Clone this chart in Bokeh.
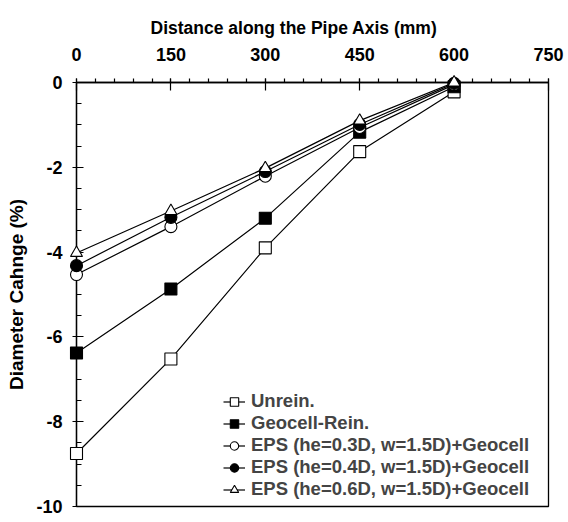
from bokeh.plotting import figure
from bokeh.models import (SingleIntervalTicker, Range1d, Legend, LegendItem,
                          PrintfTickFormatter)
from bokeh.embed import file_html
from bokeh.resources import INLINE

# ---- data ----
distance = [0, 150, 300, 450, 600]
unrein = [-8.75, -6.52, -3.90, -1.63, -0.22]
geocell = [-6.38, -4.87, -3.20, -1.17, -0.10]
eps_03 = [-4.53, -3.40, -2.21, -1.06, -0.05]
eps_04 = [-4.32, -3.18, -2.10, -0.99, -0.02]
eps_06 = [-4.02, -3.03, -2.02, -0.90, 0.00]

series_names = ["Unrein.", "Geocell-Rein.",
                "EPS (he=0.3D, w=1.5D)+Geocell",
                "EPS (he=0.4D, w=1.5D)+Geocell",
                "EPS (he=0.6D, w=1.5D)+Geocell"]
series_values = [unrein, geocell, eps_03, eps_04, eps_06]
markers = ["square", "square", "circle", "circle", "triangle"]
fills = ["white", "black", "white", "black", "white"]

x_title = "Distance along the Pipe Axis (mm)"
y_title = "Diameter Cahnge (%)"

FONT = "Liberation Sans"

p = figure(width=568, height=522, output_backend="svg", toolbar_location=None,
           x_range=Range1d(0, 750), y_range=Range1d(-10, 0),
           x_axis_location="above", y_axis_location="left",
           min_border_left=76, min_border_right=20, min_border_top=82,
           min_border_bottom=16)
p.outline_line_color = "black"
p.outline_line_width = 1.3
p.outline_line_alpha = 1
p.xgrid.visible = False
p.ygrid.visible = False

p.title.text = x_title
p.title.align = "left"
p.title.offset = 74
p.title.vertical_align = "top"
p.title.text_line_height = 1.6
p.title.text_font = FONT
p.title.text_font_style = "bold"
p.title.text_font_size = "17.5px"
p.title.text_color = "black"

for ax in (p.xaxis[0], p.yaxis[0]):
    ax.formatter = PrintfTickFormatter(format="%d")
    ax.major_label_text_font = FONT
    ax.major_label_text_font_style = "bold"
    ax.major_label_text_font_size = "18px"
    ax.major_label_text_color = "black"
    ax.axis_line_color = "black"
    ax.axis_line_width = 1.3
    ax.major_tick_line_color = "black"
    ax.minor_tick_line_color = "black"
    ax.major_tick_line_width = 1.2
    ax.minor_tick_line_width = 1.2
    ax.axis_label_text_font = FONT
    ax.axis_label_text_font_style = "bold"
    ax.axis_label_text_color = "black"

xa = p.xaxis[0]
xa.ticker = SingleIntervalTicker(interval=150, num_minor_ticks=5)
xa.major_tick_in = 8
xa.major_tick_out = 4
xa.minor_tick_in = 0
xa.minor_tick_out = 4
xa.major_label_standoff = 18

ya = p.yaxis[0]
ya.ticker = SingleIntervalTicker(interval=2, num_minor_ticks=4)
ya.major_tick_in = 7
ya.major_tick_out = 4
ya.minor_tick_in = 5
ya.minor_tick_out = 0
ya.major_label_standoff = 10
ya.axis_label = y_title
ya.axis_label_text_font_size = "19px"
ya.axis_label_standoff = 6

items = []
for name, vals, mk, fc in zip(series_names, series_values, markers, fills):
    ln = p.line(distance, vals, line_color="black", line_width=1.2)
    sc = p.scatter(distance, vals, marker=mk, size=12, fill_color=fc,
                   line_color="black", line_width=1.1, level="overlay")
    items.append(LegendItem(label=name, renderers=[ln, sc]))

legend = Legend(items=items, location=(147, 6), padding=0, margin=0,
                spacing=0, glyph_width=22, glyph_height=21, label_height=21,
                label_standoff=6, border_line_color=None,
                background_fill_alpha=0,
                label_text_font=FONT, label_text_font_style="bold",
                label_text_font_size="18.5px")
p.add_layout(legend)

open("out.html", "w").write(file_html(p, INLINE))
